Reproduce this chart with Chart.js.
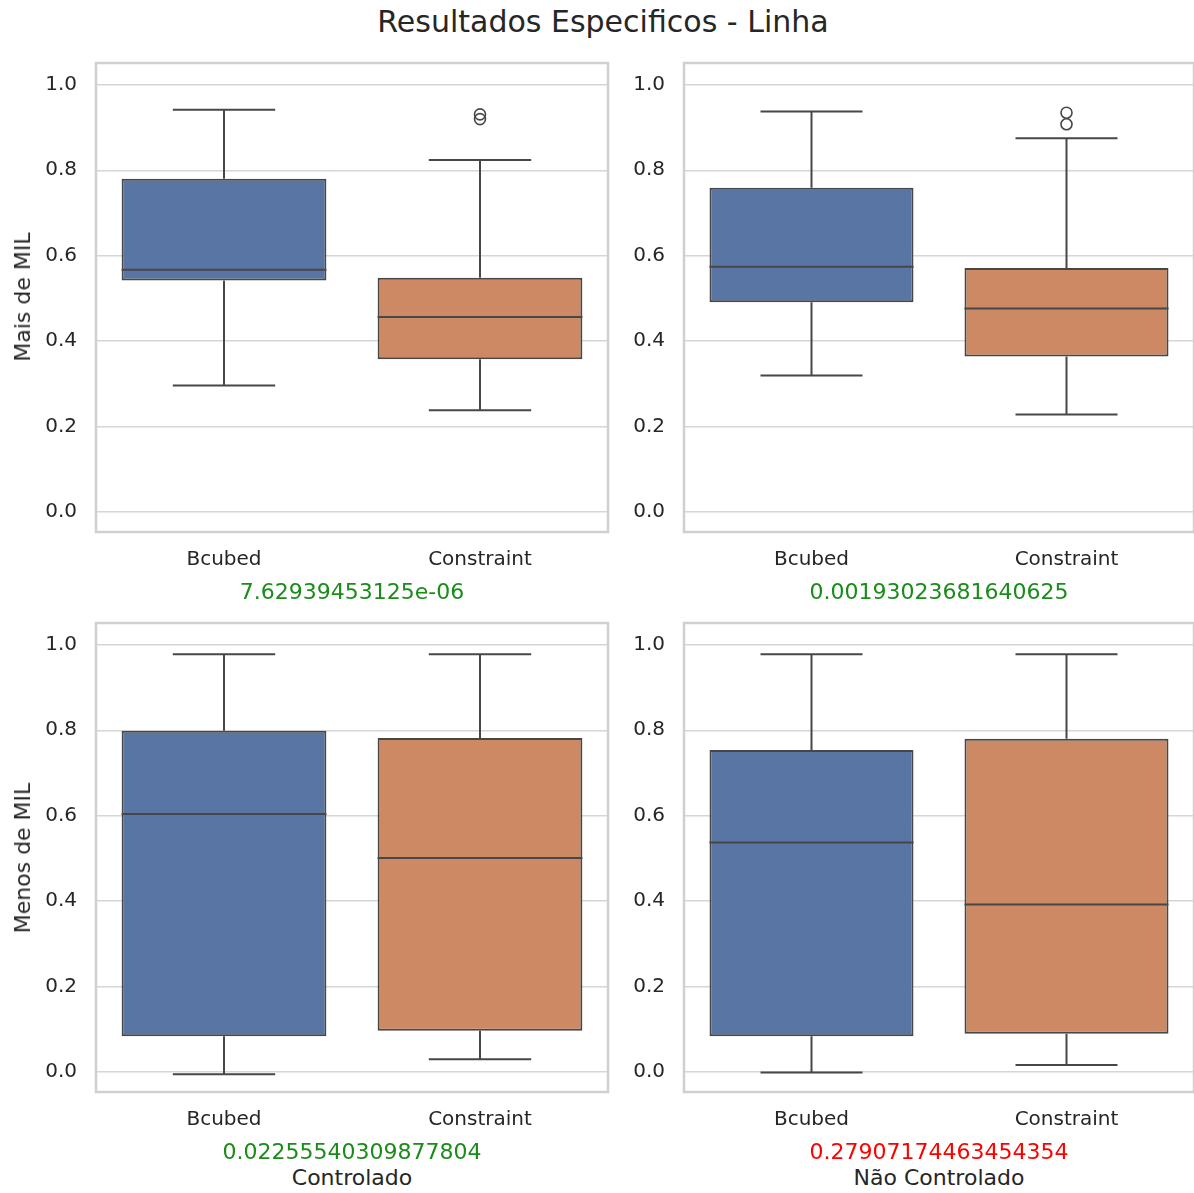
<!DOCTYPE html>
<html>
<head>
<meta charset="utf-8">
<title>Resultados Especificos - Linha</title>
<script src="https://cdn.jsdelivr.net/npm/chart.js@4.4.1/dist/chart.umd.min.js"></script>
<style>
  body { margin: 0; background: #fff; font-family: "DejaVu Sans", sans-serif; }
  #wrap { position: relative; width: 1194px; height: 1193px; overflow: hidden; }
  .panel { position: absolute; }
  .txt { position: absolute; white-space: nowrap; color: #262626; line-height: 22px; font-size: 22px; transform: translate(-50%, -50%); }
  #title { font-size: 30px; line-height: 30px; left: 603px; top: 22px; }
  .ylab { transform: translate(-50%, -50%) rotate(-90deg); }
  .ok { color: #1a8c1a; }
  .bad { color: #ff0000; }
</style>
</head>
<body>
<div id="wrap">
  <div class="txt" id="title">Resultados Especificos - Linha</div>

  <div class="panel" style="left:0;top:32px"><canvas id="c1" width="620" height="548"></canvas></div>
  <div class="panel" style="left:620px;top:32px"><canvas id="c2" width="574" height="548"></canvas></div>
  <div class="panel" style="left:0;top:592px"><canvas id="c3" width="620" height="548"></canvas></div>
  <div class="panel" style="left:620px;top:592px"><canvas id="c4" width="574" height="548"></canvas></div>

  <div class="txt ylab" style="left:23px;top:297px">Mais de MIL</div>
  <div class="txt ylab" style="left:23px;top:858px">Menos de MIL</div>

  <div class="txt ok" style="left:352px;top:592px">7.62939453125e-06</div>
  <div class="txt ok" style="left:939px;top:592px">0.00193023681640625</div>
  <div class="txt ok" style="left:352px;top:1152px">0.02255540309877804</div>
  <div class="txt bad" style="left:939px;top:1152px">0.27907174463454354</div>

  <div class="txt" style="left:352px;top:1178px">Controlado</div>
  <div class="txt" style="left:939px;top:1178px">Não Controlado</div>
</div>

<script>
// categorias e ticks
const categorias = ['Bcubed', 'Constraint'];
const yTicks = [0.0, 0.2, 0.4, 0.6, 0.8, 1.0];
const yMin = -0.0475;
const yMax = 1.0514;

// resumo de cada caixa: [bigode inferior, Q1, mediana, Q3, bigode superior]
const maisCtrlBcubed = [0.296, 0.542, 0.567, 0.780, 0.942];
const maisCtrlConstraint = [0.238, 0.357, 0.456, 0.548, 0.824];
const maisNaoCtrlBcubed = [0.319, 0.491, 0.574, 0.759, 0.938];
const maisNaoCtrlConstraint = [0.228, 0.364, 0.476, 0.571, 0.875];
const menosCtrlBcubed = [-0.006, 0.083, 0.604, 0.799, 0.978];
const menosCtrlConstraint = [0.029, 0.096, 0.501, 0.782, 0.978];
const menosNaoCtrlBcubed = [-0.002, 0.083, 0.537, 0.754, 0.978];
const menosNaoCtrlConstraint = [0.016, 0.089, 0.392, 0.780, 0.978];

// outliers por categoria
const maisCtrlOutliers = [[], [0.931, 0.920]];
const maisNaoCtrlOutliers = [[], [0.935, 0.908]];
const menosCtrlOutliers = [[], []];
const menosNaoCtrlOutliers = [[], []];

const cores = ['#5975a4', '#cc8963'];
const corLinha = '#474747';
const corTexto = '#262626';

// moldura cinza em volta da área do gráfico
const molduraPlugin = {
    id: 'moldura',
    beforeDatasetsDraw(chart) {
        const a = chart.chartArea;
        const ctx = chart.ctx;
        ctx.save();
        ctx.strokeStyle = '#d0d0d0';
        ctx.lineWidth = 2.5;
        ctx.strokeRect(a.left, a.top, a.right - a.left, a.bottom - a.top);
        ctx.restore();
    }
};

// mediana, bigodes e outliers desenhados com as escalas do chart
const boxPlugin = {
    id: 'boxplot',
    afterDatasetsDraw(chart, args, opts) {
        const ctx = chart.ctx;
        const xs = chart.scales.x;
        const ys = chart.scales.y;
        const bars = chart.getDatasetMeta(0).data;
        ctx.save();
        ctx.strokeStyle = corLinha;
        ctx.lineWidth = 2;
        opts.stats.forEach((s, i) => {
            const x = xs.getPixelForValue(i);
            const w = bars[i].width;
            const cap = w / 4;
            const [lo, q1, med, q3, hi] = s.map(v => ys.getPixelForValue(v));
            ctx.beginPath();
            // mediana
            ctx.moveTo(x - w / 2, med); ctx.lineTo(x + w / 2, med);
            // bigodes
            ctx.moveTo(x, q3); ctx.lineTo(x, hi);
            ctx.moveTo(x, q1); ctx.lineTo(x, lo);
            // tampas
            ctx.moveTo(x - cap, hi); ctx.lineTo(x + cap, hi);
            ctx.moveTo(x - cap, lo); ctx.lineTo(x + cap, lo);
            ctx.stroke();
            ctx.lineWidth = 1.6;
            opts.outliers[i].forEach(v => {
                ctx.beginPath();
                ctx.arc(x, ys.getPixelForValue(v), 5.5, 0, Math.PI * 2);
                ctx.stroke();
            });
            ctx.lineWidth = 2;
        });
        ctx.restore();
    }
};

function makePanel(id, stats, outliers, yWidth, padRight) {
    const ctx = document.getElementById(id).getContext('2d');
    return new Chart(ctx, {
        type: 'bar',
        data: {
            labels: categorias,
            datasets: [{
                data: stats.map(s => [s[1], s[3]]),
                backgroundColor: cores,
                borderColor: corLinha,
                borderWidth: 2,
                borderSkipped: false,
                barPercentage: 0.8,
                categoryPercentage: 1.0
            }]
        },
        options: {
            responsive: false,
            animation: false,
            layout: { padding: { top: 12, right: padRight, left: 0, bottom: 0 } },
            plugins: {
                legend: { display: false },
                tooltip: { enabled: false },
                boxplot: { stats: stats, outliers: outliers }
            },
            scales: {
                x: {
                    grid: { display: false, drawTicks: false },
                    border: { display: false },
                    ticks: { color: corTexto, padding: 16, font: { family: 'DejaVu Sans', size: 20 } },
                    afterFit: s => { s.height = 48; }
                },
                y: {
                    min: yMin,
                    max: yMax,
                    afterBuildTicks: s => { s.ticks = yTicks.map(v => ({ value: v })); },
                    grid: { color: '#d6d6d6', lineWidth: 1.5, drawTicks: false },
                    border: { display: false },
                    ticks: {
                        color: corTexto,
                        padding: 19,
                        font: { family: 'DejaVu Sans', size: 20 },
                        callback: v => v.toFixed(1)
                    },
                    afterFit: s => { s.width = yWidth; }
                }
            }
        },
        plugins: [molduraPlugin, boxPlugin]
    });
}

makePanel('c1', [maisCtrlBcubed, maisCtrlConstraint], maisCtrlOutliers, 96, 12);
makePanel('c2', [maisNaoCtrlBcubed, maisNaoCtrlConstraint], maisNaoCtrlOutliers, 64, 0);
makePanel('c3', [menosCtrlBcubed, menosCtrlConstraint], menosCtrlOutliers, 96, 12);
makePanel('c4', [menosNaoCtrlBcubed, menosNaoCtrlConstraint], menosNaoCtrlOutliers, 64, 0);
</script>
</body>
</html>
